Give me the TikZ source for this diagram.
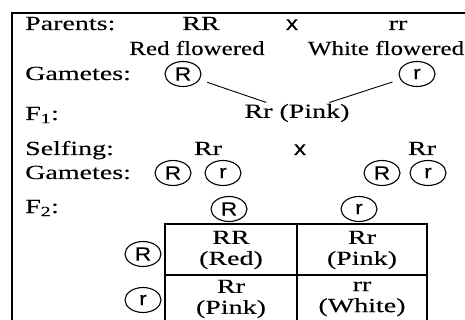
\documentclass[tikz,border=0pt]{standalone}
\usepackage{fontspec}
\setmainfont[FakeStretch=1.4,FakeBold=0.2]{Liberation Serif}
\newfontfamily\flowfont[FakeStretch=1.25,FakeBold=0.2]{Liberation Serif}
\newfontfamily\gamfont[FakeStretch=1.2,FakeBold=0.2]{Liberation Sans}
\usetikzlibrary{shapes.geometric}
\tikzset{
  lbl/.style={anchor=base west, inner sep=0pt},
  txt/.style={anchor=base, inner sep=0pt},
  cell/.style={inner sep=0pt, align=center},
  flow/.style={anchor=base, inner sep=0pt, font=\flowfont\fontsize{20}{22}\selectfont},
  gam/.style={draw, ellipse, line width=1.1pt, minimum width=36pt,
    minimum height=25pt, inner sep=0pt, font=\gamfont\fontsize{19}{19}\selectfont},
  cross/.style={anchor=base, inner sep=0pt, font=\gamfont\fontsize{20}{20}\selectfont},
}
\begin{document}
\begin{tikzpicture}[x=1pt, y=-1pt, font=\fontsize{20}{21}\selectfont]
\useasboundingbox (0,0) rectangle (465,320);
\draw[line width=1.8pt] (12,320) -- (12,13) -- (465,13);
\node[lbl] (parents) at (25,30) {Parents:};
\node[lbl] (gam1) at (25,80) {Gametes:};
\node[lbl] (f1lbl) at (25,120) {F\textsubscript{1}:};
\node[lbl] (self) at (25,155) {Selfing:};
\node[lbl] (gam2) at (25,179) {Gametes:};
\node[lbl] (f2lbl) at (25,213) {F\textsubscript{2}:};
\node[txt] (RR) at (201,30) {RR};
\node[cross] (x1) at (292,30) {x};
\node[txt] (rr) at (398,30) {rr};
\node[flow] (red) at (197,55) {Red flowered};
\node[flow] (white) at (386,55) {White flowered};
\node[gam] (gR) at (183,74) {R};
\node[gam] (gr) at (417,74) {r};
\node[cell] (f1) at (297,113) {Rr (Pink)};
\draw[line width=0.9pt, shorten <=8pt, shorten >=4pt] (gR) -- (f1);
\draw[line width=0.9pt, shorten <=8pt, shorten >=4pt] (gr) -- (f1);
\node[txt] (s1) at (208,155) {Rr};
\node[cross] (x2) at (300,155) {x};
\node[txt] (s2) at (422,155) {Rr};
\node[gam] (sR1) at (173,173) {R};
\node[gam] (sr1) at (223,173) {r};
\node[gam] (sR2) at (382,173) {R};
\node[gam] (sr2) at (428,173) {r};
\node[gam] (cR) at (229,209) {R};
\node[gam] (cr) at (359,209) {r};
\node[gam] (rR) at (143,254) {R};
\node[gam] (rr2) at (143,300) {r};
\draw[line width=1.3pt] (165,330) -- (165,224) -- (427,224) -- (427,330);
\draw[line width=1.3pt] (297,224) -- (297,330);
\draw[line width=1.3pt] (165,275) -- (427,275);
\draw[line width=1.3pt] (165,326) -- (427,326);
\node[cell] (c11) at (231,250) {RR\\(Red)};
\node[cell] (c12) at (362,250) {Rr\\(Pink)};
\node[cell] (c21) at (231,299) {Rr\\(Pink)};
\node[cell] (c22) at (362,299) {rr\\(White)};
\end{tikzpicture}
\end{document}
